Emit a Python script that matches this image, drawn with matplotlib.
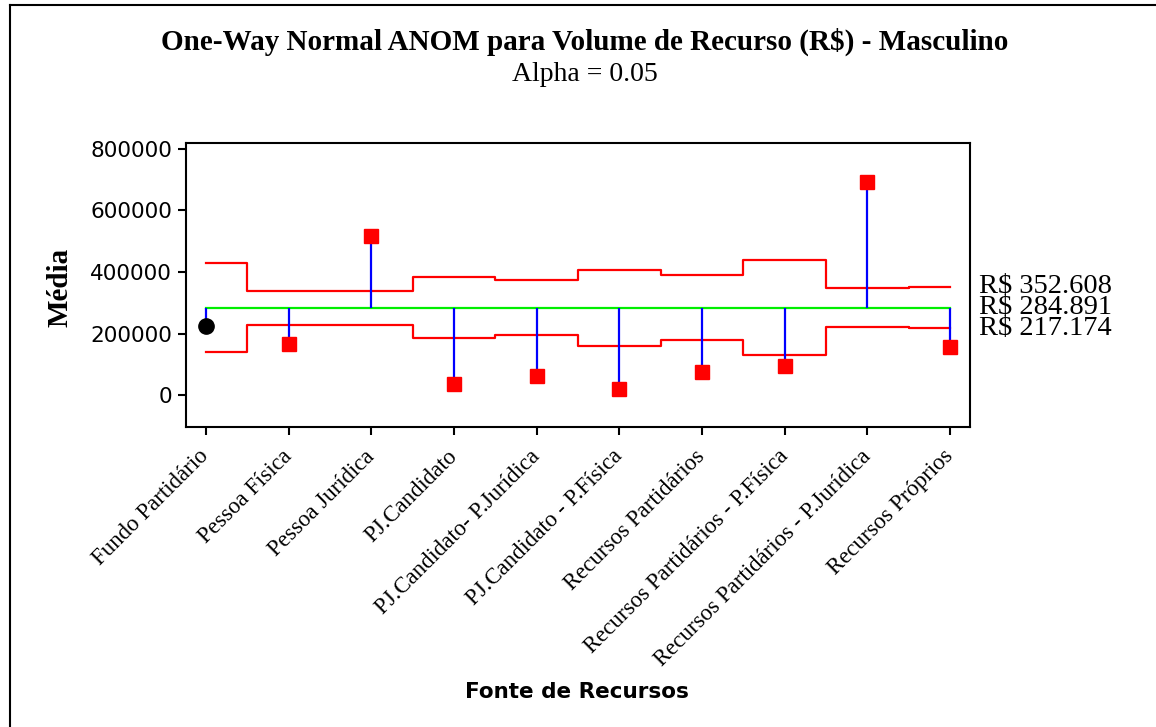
import matplotlib
matplotlib.use("Agg")
import matplotlib.pyplot as plt
from matplotlib.lines import Line2D
from matplotlib.transforms import blended_transform_factory


CATEGORIES = [
    "Fundo Partidário",
    "Pessoa Física",
    "Pessoa Jurídica",
    "PJ.Candidato",
    "PJ.Candidato- P.Jurídica",
    "PJ.Candidato - P.Física",
    "Recursos Partidários",
    "Recursos Partidários - P.Física",
    "Recursos Partidários - P.Jurídica",
    "Recursos Próprios",
]
MEANS = [226500, 168000, 518000, 38500, 64500, 21500, 76500, 94500, 690500, 156000]
# half width of the decision limits for each group
HALF_WIDTH = [143600, 55100, 55100, 98800, 89000, 123100, 104100, 153200, 62000, 67717]
CENTER = 284891
LIMIT_LABELS = ["R$ 352.608", "R$ 284.891", "R$ 217.174"]
Y_TICKS = [0, 200000, 400000, 600000, 800000]

SERIF = "Liberation Serif"
SANS = "DejaVu Sans"

x = list(range(1, len(CATEGORIES) + 1))
upper = [CENTER + h for h in HALF_WIDTH]
lower = [CENTER - h for h in HALF_WIDTH]

fig = plt.figure(figsize=(11.56, 7.27), dpi=100)
ax = fig.add_axes([0.1609, 0.4127, 0.6782, 0.3906])

ax.step(x, upper, where="mid", color="red", lw=1.6, zorder=2)
ax.step(x, lower, where="mid", color="red", lw=1.6, zorder=2)
ax.plot([x[0], x[-1]], [CENTER, CENTER], color="#00ee00", lw=1.6, zorder=3)
ax.vlines(x, CENTER, MEANS, color="blue", lw=1.6, zorder=3)

for xi, m, lo, up in zip(x, MEANS, lower, upper):
    if lo <= m <= up:
        ax.plot(xi, m, "o", color="black", ms=11, zorder=4)
    else:
        ax.plot(xi, m, "s", color="red", ms=10, zorder=4)

ax.set_xlim(0.76, 10.24)
ax.set_ylim(-102000, 818000)
ax.set_yticks(Y_TICKS)
ax.set_yticklabels([str(v) for v in Y_TICKS], family=SANS, fontsize=15.5)
ax.set_xticks(x)
ax.set_xticklabels(CATEGORIES, family=SERIF, fontsize=16.5, rotation=45,
                   ha="right", va="center", rotation_mode="anchor")
ax.tick_params(axis="both", direction="out", length=6, width=1.5, color="black")
ax.tick_params(axis="x", pad=13)
ax.tick_params(axis="y", pad=4)
for spine in ax.spines.values():
    spine.set_linewidth(1.5)

trans = blended_transform_factory(ax.transAxes, ax.transData)
for label, val in zip(LIMIT_LABELS, [upper[-1], CENTER, lower[-1]]):
    ax.text(1.012, val, label, transform=trans, family=SERIF, fontsize=20.5,
            ha="left", va="center", clip_on=False)

fig.text(0.506, 0.942, "One-Way Normal ANOM para Volume de Recurso (R$) - Masculino",
         family=SERIF, fontsize=21, fontweight="bold", ha="center", va="center")
fig.text(0.506, 0.897, "Alpha = 0.05", family=SERIF, fontsize=20,
         ha="center", va="center")
fig.text(0.052, 0.605, "Média", family=SERIF, fontsize=21, fontweight="bold",
         rotation=90, ha="center", va="center")
fig.text(0.499, 0.048, "Fonte de Recursos", family=SANS, fontsize=15.5,
         fontweight="bold", ha="center", va="center")

# outer frame, only top and left edges are visible in the original
fig.add_artist(Line2D([10 / 1156, 1], [1 - 5 / 727, 1 - 5 / 727], color="black", lw=1.5))
fig.add_artist(Line2D([10 / 1156, 10 / 1156], [0, 1 - 5 / 727], color="black", lw=1.5))

fig.savefig("out.png", dpi=100)
